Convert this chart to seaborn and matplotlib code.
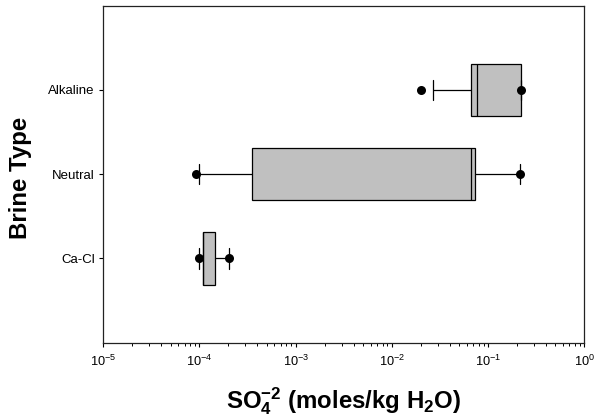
import numpy as np
import pandas as pd
import seaborn as sns
import matplotlib
matplotlib.use("Agg")
import matplotlib.pyplot as plt
from matplotlib.ticker import LogLocator

# Brine categories, top to bottom
brine_types = ["Alkaline", "Neutral", "Ca-Cl"]

# Box-plot summary of SO4 concentration (moles/kg H2O) per brine type
whisker_lo = [0.0268, 9.9e-5, 9.9e-5]
q1 = [0.0664, 3.49e-4, 1.08e-4]
median = [0.0767, 0.0664, 1.08e-4]
q3 = [0.220, 0.0726, 1.46e-4]
whisker_hi = [0.220, 0.215, 2.03e-4]

# Extreme observations plotted as points
point_type = ["Alkaline", "Alkaline", "Neutral", "Neutral", "Ca-Cl", "Ca-Cl"]
point_value = [0.0201, 0.220, 9.2e-5, 0.215, 9.9e-5, 2.03e-4]

sns.set_theme(style="ticks")
plt.rcParams["font.family"] = ["Liberation Sans", "DejaVu Sans"]
plt.rcParams["mathtext.fontset"] = "custom"
plt.rcParams["mathtext.rm"] = "Liberation Sans"
plt.rcParams["mathtext.it"] = "Liberation Sans:italic"
plt.rcParams["mathtext.bf"] = "Liberation Sans:bold"
plt.rcParams["axes.unicode_minus"] = False
for key in ("text.color", "axes.labelcolor", "xtick.color", "ytick.color"):
    plt.rcParams[key] = "black"

# Five-number rows: with whis=(0, 100) the quartiles and whisker ends
# fall exactly on these values
rows = []
for i, b in enumerate(brine_types):
    for v in (whisker_lo[i], q1[i], median[i], q3[i], whisker_hi[i]):
        rows.append({"brine": b, "so4": v})
box_df = pd.DataFrame(rows)
pts_df = pd.DataFrame({"brine": point_type, "so4": point_value})

fig = plt.figure(figsize=(5.95, 4.17), dpi=100)
ax = fig.add_axes([0.1736, 0.1782, 0.8084, 0.8081])

sns.boxplot(
    data=box_df, x="so4", y="brine", order=brine_types, orient="h",
    whis=(0, 100), width=0.62, color="#c0c0c0", saturation=1,
    linecolor="black", linewidth=0.9, log_scale=True,
    capwidths=0.24, ax=ax,
)
sns.stripplot(
    data=pts_df, x="so4", y="brine", order=brine_types, orient="h",
    jitter=False, color="black", size=6.5, linewidth=0, ax=ax,
)

ax.set_xscale("log")
ax.set_xlim(1e-5, 1)
ax.set_ylim(3, -1)
ax.xaxis.set_major_locator(LogLocator(base=10, numticks=10))
ax.xaxis.set_minor_locator(LogLocator(base=10, subs=np.arange(2, 10), numticks=10))

for s in ax.spines.values():
    s.set_visible(True)
    s.set_linewidth(0.9)
    s.set_color("#222222")

ax.tick_params(axis="x", which="major", length=3, width=0.8, labelsize=9.2, pad=5, direction="out")
ax.tick_params(axis="x", which="minor", length=1.8, width=0.7, direction="out")
ax.tick_params(axis="y", which="major", length=3, width=0.8, labelsize=9.5, pad=3, direction="out")
ax.tick_params(top=False, right=False, which="both")

ax.set_xlabel(r"$\mathbf{SO_4^{-2}\ (moles/kg\ H_2O)}$", fontsize=17.3)
ax.set_ylabel("Brine Type", fontsize=17.3, fontweight="bold")
ax.yaxis.set_label_coords(-0.149, 0.49)
ax.xaxis.set_label_coords(0.5, -0.125)

fig.savefig("out.png", dpi=100)
